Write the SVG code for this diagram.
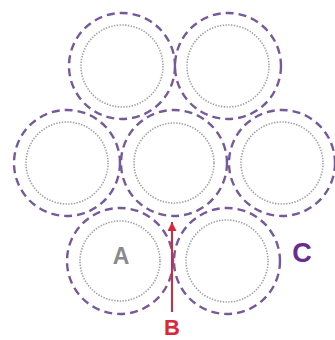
<svg xmlns="http://www.w3.org/2000/svg" width="335" height="340" viewBox="0 0 335 340">
<style>
.outer{fill:none;stroke:#75599a;stroke-width:2.4;stroke-dasharray:8 5}
.inner{fill:none;stroke:#a0a0a0;stroke-width:1.6;stroke-dasharray:1.4 1.4}
.lbl{font-family:"Liberation Sans",Arial,sans-serif;font-weight:bold;text-anchor:middle}
</style>
<defs>
<marker id="ah" viewBox="0 0 10 10" refX="10" refY="5" markerWidth="10" markerHeight="9" markerUnits="userSpaceOnUse" orient="auto">
<path d="M0,0 L10,5 L0,10 Z" fill="#d8283a"/>
</marker>
</defs>
<rect width="335" height="340" fill="#fff"/>
<g id="node-top-left"><circle class="outer" cx="122" cy="66" r="53"/><circle class="inner" cx="122" cy="66" r="41"/></g>
<g id="node-top-right"><circle class="outer" cx="228" cy="66" r="53"/><circle class="inner" cx="228" cy="66" r="41"/></g>
<g id="node-mid-left"><circle class="outer" cx="67" cy="163" r="53"/><circle class="inner" cx="67" cy="163" r="41"/></g>
<g id="node-mid-center"><circle class="outer" cx="174" cy="163" r="53"/><circle class="inner" cx="174" cy="163" r="40"/></g>
<g id="node-mid-right"><circle class="outer" cx="282" cy="163" r="53"/><circle class="inner" cx="282" cy="163" r="41"/></g>
<g id="node-A"><circle class="outer" cx="120" cy="261" r="53"/><circle class="inner" cx="120" cy="261" r="40"/><text class="lbl" x="121" y="264" font-size="23" fill="#8a8a8a">A</text></g>
<g id="node-bottom-right"><circle class="outer" cx="227" cy="261" r="53"/><circle class="inner" cx="227" cy="261" r="41"/></g>
<g id="label-C"><text class="lbl" x="302" y="262" font-size="27" fill="#6a2c8e">C</text></g>
<g id="connectors"><line x1="172" y1="312" x2="172" y2="222" stroke="#d8283a" stroke-width="2" marker-end="url(#ah)"/></g>
<g id="label-B"><text class="lbl" x="172" y="335" font-size="22" fill="#d8283a">B</text></g>
</svg>
